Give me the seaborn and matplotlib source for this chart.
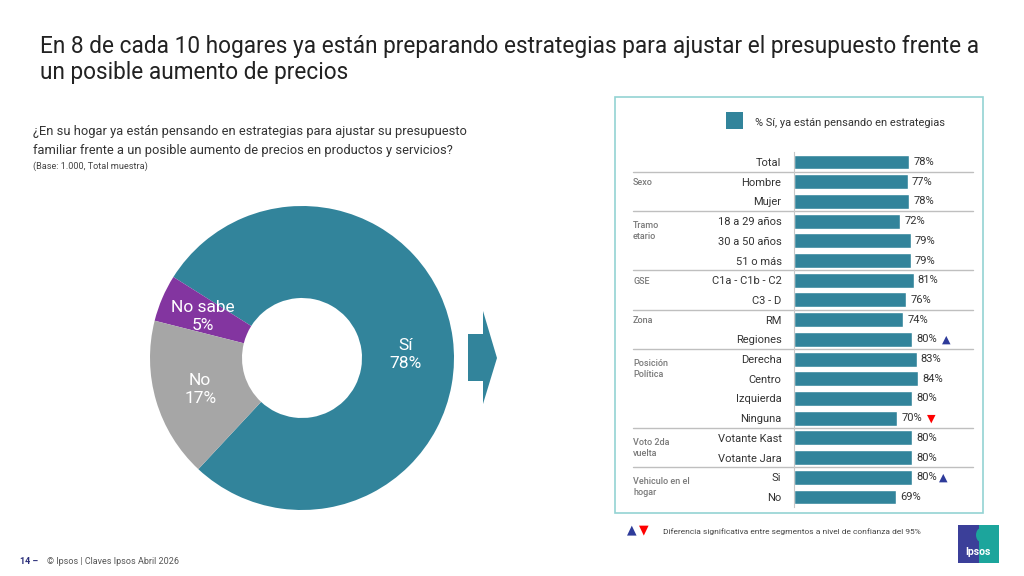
import matplotlib
matplotlib.use('Agg')
import matplotlib.pyplot as plt
import matplotlib.patches as mpatches
from matplotlib.transforms import blended_transform_factory
import seaborn as sns
import pandas as pd

# Datos del gráfico de dona
pie_labels = ['Sí', 'No sabe', 'No']
pie_values = [78, 5, 17]
pie_colors = ['#32849B', '#8335A0', '#A6A6A6']

# Datos de segmentos
segmentos = ['Total', 'Hombre', 'Mujer', '18 a 29 años', '30 a 50 años', '51 o más',
             'C1a - C1b - C2', 'C3 - D', 'RM', 'Regiones', 'Derecha', 'Centro',
             'Izquierda', 'Ninguna', 'Votante Kast', 'Votante Jara', 'Si', 'No']
valores = [78, 77, 78, 72, 79, 79, 81, 76, 74, 80, 83, 84, 80, 70, 80, 80, 80, 69]
grupos = ['Sexo', 'Tramo\netario', 'GSE', 'Zona', 'Posición\nPolítica',
          'Voto 2da\nvuelta', 'Vehiculo en el\nhogar']
grupo_inicio = ['Hombre', '18 a 29 años', 'C1a - C1b - C2', 'RM', 'Derecha',
                'Votante Kast', 'Si']
sig_arriba = ['Regiones', 'Si']
sig_abajo = ['Ninguna']

TEAL = '#32849B'
W, H = 1024, 576

sns.set_theme(style='white')
plt.rcParams['font.family'] = ['Roboto', 'DejaVu Sans']

fig = plt.figure(figsize=(10.24, 5.76), dpi=100)


def fx(px):
    return px / W


def fy(py):
    return 1 - py / H


# Título
fig.text(fx(40), fy(47), 'En 8 de cada 10 hogares ya están preparando estrategias para ajustar el presupuesto frente a',
         fontsize=16.3, color='#222222', va='center')
fig.text(fx(40), fy(73), 'un posible aumento de precios', fontsize=16.3, color='#222222', va='center')

# Pregunta
fig.text(fx(33), fy(131), '¿En su hogar ya están pensando en estrategias para ajustar su presupuesto',
         fontsize=9.3, color='#333333', va='center')
fig.text(fx(33), fy(150), 'familiar frente a un posible aumento de precios en productos y servicios?',
         fontsize=9.3, color='#333333', va='center')
fig.text(fx(33), fy(166), '(Base: 1.000, Total muestra)', fontsize=6.6, color='#444444', va='center')

# Dona
cx, cy, r = 302, 358, 152
ax_pie = fig.add_axes([fx(cx - 160), fy(cy + 160), 320 / W, 320 / H])
ax_pie.pie(pie_values, colors=pie_colors, startangle=-133, counterclock=True,
           radius=1, wedgeprops=dict(width=1 - 60 / 152, edgecolor='none', linewidth=0))
ax_pie.set_xlim(-160 / r, 160 / r)
ax_pie.set_ylim(-160 / r, 160 / r)
ax_pie.set_aspect('equal')
ax_pie.axis('off')
pos_labels = [(0.68, 0.02), (-0.65, 0.27), (-0.67, -0.21)]
for lab, val, (tx, ty) in zip(pie_labels, pie_values, pos_labels):
    ax_pie.text(tx, ty, f'{lab}\n{val}%', ha='center', va='center', color='white',
                fontsize=12.5, linespacing=1.25)

# Flecha
flecha = [(468, 334), (483, 334), (483, 311), (497, 358), (483, 404), (483, 381), (468, 381)]
fig.patches.append(mpatches.Polygon([(fx(x), fy(y)) for x, y in flecha], closed=True,
                                    facecolor=TEAL, edgecolor='none', transform=fig.transFigure))

# Marco del panel derecho
fig.patches.append(mpatches.Rectangle((fx(615), fy(513)), (983 - 615) / W, (513 - 97) / H,
                                      facecolor='none', edgecolor='#93D3D3', linewidth=1.2,
                                      transform=fig.transFigure))

# Leyenda
fig.patches.append(mpatches.Rectangle((fx(726), fy(129)), 17 / W, 17 / H, facecolor=TEAL,
                                      edgecolor='none', transform=fig.transFigure))
fig.text(fx(755), fy(123), '% Sí, ya están pensando en estrategias', fontsize=7.9,
         color='#333333', va='center')

# Barras
df = pd.DataFrame({'segmento': segmentos, 'valor': valores})
top = 162 - 9.85
bottom = 497 + 9.85
ax = fig.add_axes([fx(794), fy(bottom), (980 - 794) / W, (bottom - top) / H])
sns.barplot(data=df, x='valor', y='segmento', orient='h', color=TEAL, saturation=1,
            width=0.76, ax=ax)
ax.set_xlim(0, 126)
ax.set_ylim(len(segmentos) - 0.5, -0.5)
ax.set_xlabel('')
ax.set_ylabel('')
ax.set_xticks([])
ax.tick_params(axis='y', length=0, pad=9, labelsize=8, labelcolor='#333333')
for s in ['top', 'right', 'bottom']:
    ax.spines[s].set_visible(False)
ax.spines['left'].set_color('#C8C8C8')
ax.spines['left'].set_linewidth(0.8)
ax.bar_label(ax.containers[0], fmt='%d%%', padding=3, fontsize=8, color='#333333')

for i, seg in enumerate(segmentos):
    if seg in sig_arriba:
        dx = 34 if seg == 'Regiones' else 31
        ax.annotate('▲', xy=(valores[i], i), xytext=(dx, 0), textcoords='offset pixels',
                    ha='center', va='center', color='#2E3B9A', fontsize=8,
                    family=['DejaVu Sans'])
    if seg in sig_abajo:
        ax.annotate('▼', xy=(valores[i], i), xytext=(34, 0), textcoords='offset pixels',
                    ha='center', va='center', color='#FF0000', fontsize=8,
                    family=['DejaVu Sans'])

# Separadores y nombres de grupo
tr = blended_transform_factory(fig.transFigure, ax.transData)
for nombre, inicio in zip(grupos, grupo_inicio):
    i = segmentos.index(inicio)
    ax.plot([fx(633), fx(973)], [i - 0.5, i - 0.5], transform=tr, color='#BFBFBF',
            linewidth=1, clip_on=False)
    dy = 0.5 if '\n' in nombre else 0.05
    ax.text(fx(633), i + dy, nombre, transform=tr, fontsize=6.5, color='#7A7A7A',
            fontweight='medium', va='center', ha='left', linespacing=1.35)

# Nota de significancia
fig.text(fx(627), fy(530), '▲', fontsize=9, color='#2E3B9A', va='center', family=['DejaVu Sans'])
fig.text(fx(639), fy(530), '▼', fontsize=9, color='#FF0000', va='center', family=['DejaVu Sans'])
fig.text(fx(663), fy(532), 'Diferencia significativa entre segmentos a nivel de confianza del 95%',
         fontsize=6.0, color='#444444', va='center')

# Logo Ipsos
fig.patches.append(mpatches.Rectangle((fx(958), fy(563)), 21 / W, 38 / H, facecolor='#3B3F99',
                                      edgecolor='none', transform=fig.transFigure))
fig.patches.append(mpatches.Rectangle((fx(979), fy(563)), 20 / W, 38 / H, facecolor='#1CA59C',
                                      edgecolor='none', transform=fig.transFigure))
fig.patches.append(mpatches.Ellipse((fx(981), fy(535)), 10 / W, 14 / H, facecolor='#1CA59C',
                                    edgecolor='none', transform=fig.transFigure))
fig.text(fx(978), fy(552), 'Ipsos', fontsize=7.5, color='white', fontweight='bold',
         ha='center', va='center')

# Pie de página
fig.text(fx(20), fy(562), '14 –', fontsize=6.5, color='#2B2F7A', fontweight='bold', va='center')
fig.text(fx(47), fy(562), '© Ipsos | Claves Ipsos Abril 2026', fontsize=6.5, color='#555555',
         va='center')

fig.savefig('out.png', dpi=100)
